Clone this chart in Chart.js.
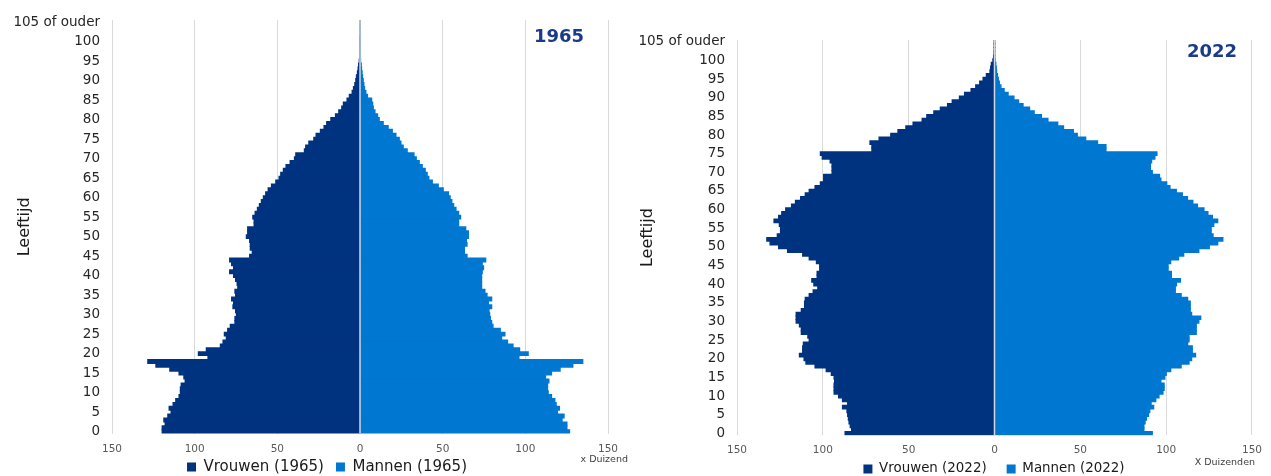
<!DOCTYPE html>
<html>
<head>
<meta charset="utf-8">
<script src="https://cdn.jsdelivr.net/npm/chart.js@4.4.1/dist/chart.umd.min.js"></script>
<style>
  html, body { margin: 0; padding: 0; background: #fff; }
  #wrap { position: relative; width: 1271px; height: 476px; }
  .box { position: absolute; top: 0; height: 476px; }
</style>
</head>
<body>
<div id="wrap">
  <div class="box" style="left:0;width:630px"><canvas id="c1965" width="630" height="476"></canvas></div>
  <div class="box" style="left:630px;width:641px"><canvas id="c2022" width="641" height="476"></canvas></div>
</div>
<script>
// age categories (0 .. 105 of ouder)
const ages = ['0','1','2','3','4','5','6','7','8','9','10','11','12','13','14','15','16','17','18','19',
  '20','21','22','23','24','25','26','27','28','29','30','31','32','33','34','35','36','37','38','39',
  '40','41','42','43','44','45','46','47','48','49','50','51','52','53','54','55','56','57','58','59',
  '60','61','62','63','64','65','66','67','68','69','70','71','72','73','74','75','76','77','78','79',
  '80','81','82','83','84','85','86','87','88','89','90','91','92','93','94','95','96','97','98','99',
  '100','101','102','103','104','105 of ouder'];

// x 1000, per age 0..105
const vrouwen1965 = [119.7,119.7,117.9,118.7,116.3,114.3,115.5,113.1,111.5,109.5,
  108.7,108.7,108.2,105.8,106.6,109.5,115.1,123.5,128.4,92.0,
  97.8,93.0,84.5,82.9,80.9,82.1,80.1,78.5,75.7,75.7,
  74.8,75.3,76.9,76.5,77.7,75.3,75.7,74.0,74.4,75.3,
  76.5,78.9,76.5,77.7,78.9,66.8,65.2,66.4,66.4,66.8,
  68.8,68.0,68.0,64.1,64.1,64.9,63.5,62.1,60.9,59.7,
  58.5,57.1,55.6,53.6,51.0,49.0,48.0,46.4,44.8,42.3,
  39.7,38.9,33.7,32.9,31.0,28.0,26.6,24.0,21.8,20.2,
  17.7,14.9,12.9,11.1,10.1,7.9,6.5,4.8,4.0,3.2,
  2.6,2.2,1.6,1.2,0.9,0.5,0.3,0.15,0.08,0.04,
  0.02,0.01,0,0,0,0];
const mannen1965 = [126.8,125.2,125.2,122.3,123.5,119.5,120.7,118.7,117.9,115.9,
  113.9,113.5,113.5,114.3,112.3,115.9,121.1,128.8,134.8,96.2,
  101.8,96.6,92.6,89.3,85.7,87.7,84.9,80.5,79.7,78.9,
  78.5,78.1,79.7,77.7,79.7,76.9,75.6,73.6,73.6,73.6,
  73.6,74.0,74.8,74.0,76.1,64.8,63.2,63.2,64.8,64.4,
  65.6,65.6,64.0,59.7,59.7,60.9,59.7,58.1,56.7,55.6,
  54.6,53.6,50.4,47.4,43.8,41.7,40.7,39.5,37.7,35.9,
  34.1,32.7,28.6,26.2,24.8,23.8,21.8,19.6,17.1,14.1,
  11.7,10.7,9.1,8.1,7.7,7.1,4.6,3.6,2.8,2.4,
  2.0,1.6,1.3,1.0,0.8,0.4,0.2,0.1,0.05,0.02,
  0.01,0,0,0,0,0];
const vrouwen2022 = [87.1,83.3,84.1,84.8,85.2,85.6,86.0,88.6,85.6,88.6,
  90.9,93.5,93.5,93.5,93.2,93.5,95.1,98.1,104.6,109.9,
  111.0,113.7,111.8,111.8,111.4,108.0,108.8,112.6,112.6,113.7,
  115.6,115.6,115.6,112.6,110.7,110.7,110.3,108.0,105.7,103.0,
  105.3,106.5,103.4,103.4,101.9,101.9,103.8,108.0,111.8,120.6,
  125.8,130.8,132.7,126.6,124.7,124.7,125.4,128.5,125.8,124.0,
  121.7,118.3,116.0,113.0,110.3,108.0,104.6,101.5,99.6,99.6,
  94.7,94.7,94.7,95.8,100.4,101.5,71.5,71.5,72.6,67.3,
  60.5,56.3,51.7,47.5,42.2,39.5,35.4,31.6,27.4,24.7,
  20.5,17.5,13.7,11.0,8.7,6.7,4.8,2.7,2.3,1.9,
  1.0,0.6,0.35,0.2,0.1,0.1];
const mannen2022 = [92.0,87.1,87.1,87.8,88.6,89.8,90.5,92.8,91.3,94.0,
  95.9,98.2,98.9,98.9,97.0,99.3,100.1,102.7,108.8,113.4,
  114.9,117.2,115.3,115.3,112.6,113.4,113.4,117.6,117.6,117.6,
  119.1,120.2,114.9,114.1,114.1,114.1,112.6,108.8,105.4,105.4,
  106.1,108.4,103.1,103.1,101.2,101.2,102.7,107.3,110.3,119.1,
  125.2,130.1,133.1,127.4,126.3,126.3,127.8,130.1,127.0,124.4,
  122.1,118.3,115.6,112.5,109.5,106.0,102.3,100.4,97.0,96.2,
  92.0,90.9,90.9,91.6,93.5,94.7,65.0,65.0,60.1,53.2,
  48.3,46.0,40.3,36.9,31.2,27.4,23.2,20.5,16.7,14.1,
  11.4,8.0,5.7,3.8,2.9,2.3,1.8,1.3,1.1,0.8,
  0.4,0.2,0.1,0.05,0.02,0.01];

const xTicks = [-150, -100, -50, 0, 50, 100, 150];

const DONKER = '#00337f';
const LICHT = '#0077d0';
const FONT = '"DejaVu Sans", Verdana, sans-serif';

const overlay = {
  id: 'overlay',
  afterLayout(chart, args, opts) {
    // put the legend where the original has it
    const lg = chart.legend;
    const h = lg.bottom - lg.top;
    lg.top = opts.legendY - lg.options.labels.padding - lg.options.labels.font.size / 2;
    lg.bottom = lg.top + h;
    const dx = opts.legendX - (lg.left + lg.right) / 2;
    lg.left += dx;
    lg.right += dx;
  },
  afterDatasetsDraw(chart) {
    const { ctx, chartArea, scales } = chart;
    const x0 = scales.x.getPixelForValue(0);
    ctx.save();
    ctx.strokeStyle = '#d3d8e1';
    ctx.lineWidth = 1.5;
    ctx.beginPath();
    ctx.moveTo(x0, chartArea.top);
    ctx.lineTo(x0, chartArea.bottom);
    ctx.stroke();
    ctx.restore();
  },
  afterDraw(chart, args, opts) {
    const ctx = chart.ctx;
    ctx.save();
    ctx.fillStyle = '#1a3a8a';
    ctx.font = 'bold 18px ' + FONT;
    ctx.textAlign = 'center';
    ctx.textBaseline = 'middle';
    ctx.fillText(opts.year, opts.yearX, opts.yearY);
    ctx.fillStyle = '#404040';
    ctx.font = '9.5px ' + FONT;
    ctx.textAlign = 'right';
    ctx.fillText(opts.unit, opts.unitX, opts.unitY);
    ctx.restore();
  }
};

function pyramid(id, year, women, men, s) {
  const xHeight = 30;
  const legendH = s.legendFont + s.legendGap + 10;
  const padBottom = 476 - s.bottom - xHeight - legendH;
  return new Chart(document.getElementById(id), {
    type: 'bar',
    data: {
      labels: ages,
      datasets: [
        { label: 'Vrouwen (' + year + ')', data: women.map(v => -v), backgroundColor: DONKER },
        { label: 'Mannen (' + year + ')', data: men, backgroundColor: LICHT }
      ]
    },
    options: {
      indexAxis: 'y',
      responsive: false,
      animation: false,
      layout: { padding: { top: s.top, right: s.right, left: 0, bottom: padBottom } },
      datasets: { bar: { barPercentage: 1, categoryPercentage: 1, borderWidth: 0, inflateAmount: 0.5 } },
      scales: {
        x: {
          stacked: true,
          min: -150, max: 150,
          afterBuildTicks: sc => { sc.ticks = xTicks.map(v => ({ value: v })); },
          afterFit: sc => { sc.height = xHeight; },
          ticks: {
            callback: v => Math.abs(v),
            color: '#595959',
            font: { family: FONT, size: 10.5 },
            padding: 9
          },
          grid: { color: '#d9d9d9', lineWidth: 1, drawTicks: false },
          border: { display: false }
        },
        y: {
          stacked: true,
          reverse: true,
          afterFit: sc => { sc.width = s.yWidth; },
          ticks: {
            autoSkip: false,
            callback: function (v, i) { return i % 5 === 0 ? this.getLabelForValue(v) : ''; },
            color: '#262626',
            font: { family: FONT, size: 13.5 },
            padding: 12
          },
          grid: { display: false, drawTicks: false },
          border: { display: false },
          title: {
            display: true,
            text: 'Leeftijd',
            color: '#1a1a1a',
            font: { family: FONT, size: 16 },
            padding: { top: s.titlePad, bottom: 0 }
          }
        }
      },
      plugins: {
        legend: {
          position: 'bottom',
          labels: {
            boxWidth: 9, boxHeight: 9,
            padding: s.legendGap,
            color: '#1a1a1a',
            font: { family: FONT, size: s.legendFont }
          }
        },
        tooltip: { enabled: false },
        overlay: {
          year: year, yearX: s.yearX, yearY: s.yearY,
          unit: s.unit, unitX: s.unitX, unitY: s.unitY,
          legendX: s.legendX, legendY: s.legendY
        }
      }
    },
    plugins: [overlay]
  });
}

pyramid('c1965', '1965', vrouwen1965, mannen1965, {
  top: 17.5, right: 22, bottom: 433.6, yWidth: 112, titlePad: 15,
  legendGap: 12, legendFont: 15, legendX: 327, legendY: 467,
  yearX: 559, yearY: 37, unit: 'x Duizend', unitX: 628, unitY: 460
});
pyramid('c2022', '2022', vrouwen2022, mannen2022, {
  top: 40, right: 9, bottom: 435.2, yWidth: 107, titlePad: 8,
  legendGap: 20, legendFont: 13.4, legendX: 364, legendY: 469,
  yearX: 582, yearY: 52, unit: 'X Duizenden', unitX: 625, unitY: 463
});
</script>
</body>
</html>
